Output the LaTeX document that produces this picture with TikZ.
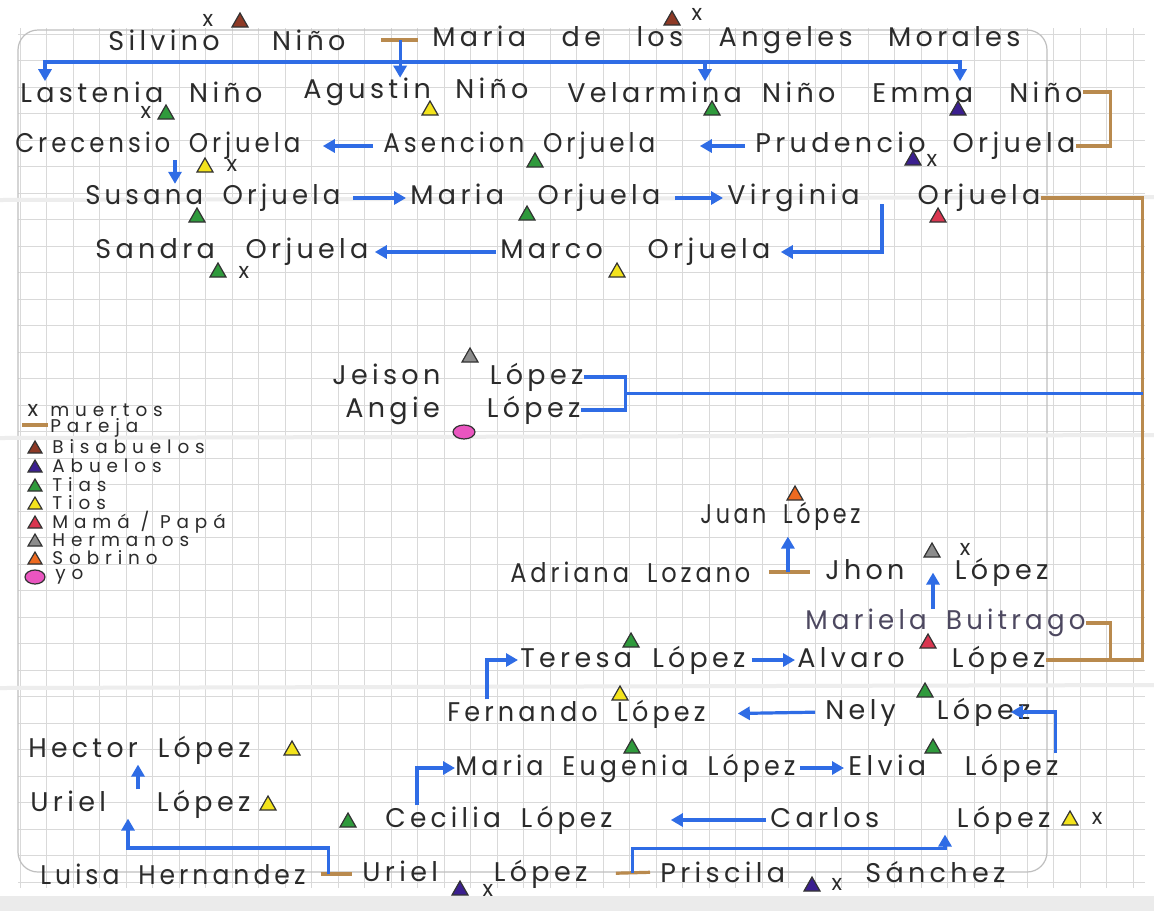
\documentclass[tikz,border=0pt]{standalone}
\usepackage{fontspec}
\setmainfont{Poppins}[LetterSpace=16]
\usetikzlibrary{arrows.meta}
\definecolor{azul}{HTML}{2F6CE5}
\definecolor{cafe}{HTML}{B98A4E}
\definecolor{bisa}{HTML}{8E3A26}
\definecolor{abue}{HTML}{3B1F8F}
\definecolor{tias}{HTML}{2F9A3C}
\definecolor{tios}{HTML}{F3E31C}
\definecolor{papas}{HTML}{DA3650}
\definecolor{herm}{HTML}{8C8C8C}
\definecolor{sobri}{HTML}{EE6A20}
\definecolor{yo}{HTML}{EA55C0}
\definecolor{cuadro}{HTML}{D9D9D9}
\definecolor{tinta}{HTML}{2B2B2B}
\definecolor{tintagris}{HTML}{4D4860}
% nombre con el ancho dado: se estira o se comprime
\newlength\largo
\newlength\ancho
\newcommand\ajusta[2]{%
  \spaceskip=.75em plus 20em\relax
  \ancho=\dimexpr#1\relax\settowidth\largo{#2}%
  \ifdim\largo>\ancho
    \resizebox{\ancho}{\height}{#2}%
  \else
    \makebox[\ancho][s]{#2}%
  \fi}
\begin{document}
\begin{tikzpicture}[x=0.5pt,y=-0.5pt,
  nombre/.style={right,inner sep=0pt,text=tinta,font=\fontsize{13.5}{15}\selectfont},
  leyenda/.style={right,inner sep=0pt,text=tinta,font=\fontsize{9.2}{10}\selectfont\addfontfeature{LetterSpace=32}},
  marca/.style={inner sep=0pt,text=tinta,font=\fontsize{11}{11}\selectfont},
  flecha/.style={draw=azul,line width=1.6pt,-{Triangle[length=6pt,width=6.5pt]}},
  linea/.style={draw=azul,line width=1.6pt},
  pareja/.style={draw=cafe,line width=1.6pt}]

\useasboundingbox (0,0) rectangle (1154,911);
\fill[white] (0,0) rectangle (1154,911);
% hoja cuadriculada
\foreach \i in {0,...,42}
{
    \draw[cuadro,line width=.4pt] (20+\i*26.5,28) -- (20+\i*26.5,888);
}
\foreach \j in {0,...,32}
{
    \draw[cuadro,line width=.4pt] (18,34+\j*26.5) -- (1145,34+\j*26.5);
}
\draw[black!25,line width=.6pt,rounded corners=10pt] (18,30) rectangle (1047,872);
\fill[black!8] (0,896) rectangle (1154,911);
\foreach \y in {200,438,688}
{
    \draw[black!7,line width=2pt] (0,\y) -- (1154,\y-3);
}

% personas
\foreach \n/\x/\y/\w/\t in {
 silvino/108/40/237/Silvino Niño, mariaa/432/40/588/Maria de los Angeles Morales,
 lastenia/20/92/242/Lastenia Niño, agustin/303/92/225/Agustin Niño,
 velarmina/567/92/268/Velarmina Niño, emma/872/92/210/Emma Niño,
 crecensio/15/146/285/Crecensio Orjuela, asencion/383/146/272/Asencion Orjuela,
 prudencio/755/146/320/Prudencio Orjuela,
 susana/85/198/255/Susana Orjuela, mariao/410/198/250/Maria Orjuela,
 virginia/727/198/313/Virginia Orjuela,
 sandra/95/252/273/Sandra Orjuela, marco/500/252/270/Marco Orjuela,
 jeison/332/377/251/Jeison López, angie/345/410/235/Angie López,
 juan/700/516/160/Juan López,
 adriana/510/572/240/Adriana Lozano, jhon/825/572/223/Jhon López,
 teresa/520/660/225/Teresa López, alvaro/797/660/248/Alvaro López,
 fernando/447/714/258/Fernando López, nely/825/712/205/Nely López,
 hector/28/750/222/Hector López,
 mariaeu/455/768/340/Maria Eugenia López, elvia/848/768/210/Elvia López,
 urielh/30/804/220/Uriel López,
 cecilia/385/820/227/Cecilia López, carlos/770/820/280/Carlos López,
 luisa/40/874/265/Luisa Hernandez, urielp/362/874/225/Uriel López,
 priscila/660/872/345/Priscila Sánchez}
{
    \node[nombre] (\n) at (\x,\y) {\ajusta{\w pt/2}{\t}};
}
\node[nombre,text=tintagris] (mariela) at (805,623) {\ajusta{140pt}{Mariela Buitrago}};

% parejas
\draw[pareja,shorten <=17.5pt,shorten >=7pt] (silvino.east) -- coordinate[pos=.63] (p1) (mariaa.west);
\draw[pareja,shorten <=9pt,shorten >=7.5pt] (adriana.east) -- coordinate[pos=.5] (p2) (jhon.west);
\draw[pareja,shorten <=7.5pt,shorten >=5pt] (luisa.east) -- coordinate[pos=.4] (p3) (urielp.west);
\draw[pareja,shorten <=14pt,shorten >=5pt] (urielp.east) -- coordinate[pos=.62] (p4) (priscila.west);
\draw[pareja] (emma.east) -- ++(14pt,0) |- (prudencio.east);
\draw[pareja] (virginia.east) -- ++(51pt,0) coordinate (borde) |- (alvaro.east);
\draw[pareja] (mariela.east) -- ++(12.5pt,0) |- (alvaro.east);

% hijos
\draw[flecha] (p1) -- (p1 |- agustin.north);
\draw[flecha] (p1 |- 0,62) -| ([xshift=12.5pt]lastenia.north west);
\draw[flecha] (p1 |- 0,62) -| ([xshift=69pt]velarmina.north west);
\draw[flecha] (p1 |- 0,62) -| ([xshift=44pt]emma.north west);
\draw[flecha,shorten <=5pt,shorten >=11pt] (asencion.west) -- (crecensio.east);
\draw[flecha,shorten <=5pt,shorten >=22pt] (prudencio.west) -- (asencion.east);
\draw[flecha] ([xshift=80pt]crecensio.south west) -- ([xshift=45pt]susana.north west);
\draw[flecha,shorten <=6pt,shorten >=2pt] (susana.east) -- (mariao.west);
\draw[flecha,shorten <=7pt,shorten >=2pt] (mariao.east) -- (virginia.west);
\draw[flecha,shorten >=5pt] ([xshift=77.5pt,yshift=-3pt]virginia.west) |- (marco.east);
\draw[flecha,shorten <=2pt,shorten >=3pt] (marco.west) -- (sandra.east);

\path (jeison.east) -- coordinate (mitad) (angie.east);
\draw[linea] (jeison.east) -- ++(21pt,0) |- (angie.east);
\draw[linea] ([xshift=21pt]mitad) -- (mitad -| borde);

\draw[flecha,shorten >=3pt] (p2) -- (p2 |- juan.south);
\draw[flecha] ([xshift=64pt]mariela.north west) -- ([xshift=54pt,yshift=7pt]jhon.south west);
\draw[flecha,shorten <=3pt,shorten >=1pt] (teresa.east) -- (alvaro.west);
\draw[flecha,shorten >=1pt] ([xshift=20pt]fernando.north west) |- (teresa.west);
\draw[flecha,shorten <=5pt,shorten >=16pt] (nely.west) -- (fernando.east);
\draw[flecha] ([xshift=-1.5pt]elvia.north east) |- ([xshift=-10pt]nely.east);
\draw[flecha,shorten <=2pt,shorten >=2pt] (mariaeu.east) -- (elvia.west);
\draw[flecha] ([xshift=16pt]cecilia.north west) |- (mariaeu.west);
\draw[flecha,shorten <=2pt,shorten >=29pt] (carlos.west) -- (cecilia.east);
\draw[flecha] ([xshift=54pt]urielh.north west) -- ([xshift=55pt]hector.south west);
\draw[flecha] (p3) -- ++(0,-26) -| ([xshift=49pt]urielh.south west);
\draw[flecha] (p4) -- ++(0,-24) -| ([xshift=87.5pt]carlos.south west);

% triangulos
\foreach \x/\y/\c in {240/20/bisa, 672/18/bisa, 166/112/tias, 430/108/tios, 712/108/tias,
 958/108/abue, 205/165/tios, 535/160/tias, 913/158/abue, 197/215/tias, 527/213/tias,
 938/215/papas, 218/270/tias, 617/270/tios, 470/355/herm, 795/493/sobri, 932/550/herm,
 631/640/tias, 928/641/papas, 620/693/tios, 925/690/tias, 632/746/tias, 933/746/tias,
 292/748/tios, 268/803/tios, 348/820/tias, 1070/818/tios, 460/888/abue, 812/884/abue}
{
    \filldraw[fill=\c,draw=black!80,line width=.6pt] (\x-8,\y+7) -- (\x+8,\y+7) -- (\x,\y-7) -- cycle;
}
\filldraw[fill=yo,draw=black!80,line width=.6pt] (464,432) ellipse (5.5pt and 3.5pt);

% muertos
\foreach \x/\y [count=\i] in {208/20, 697/14, 146/112, 232/165, 932/160, 244/272, 965/549,
 1097/818, 488/890, 837/884}
{
    \node[marca] (muerto\i) at (\x,\y) {x};
}

% convenciones
\node[marca] (lx) at (33,410) {x};
\node[leyenda] (lmuertos) at (50,410) {muertos};
\draw[pareja] (22,425) -- (48,425);
\node[leyenda] (lpareja) at (50,428) {Pareja};
\foreach \y/\c/\t in {447/bisa/Bisabuelos, 466/abue/Abuelos, 485/tias/Tias, 503/tios/Tios,
 522/papas/{Mamá / Papá}, 540/herm/Hermanos, 558/sobri/Sobrino}
{
    \filldraw[fill=\c,draw=black!80,line width=.6pt] (28,\y+6) -- (42,\y+6) -- (35,\y-6) -- cycle;
    \node[leyenda] at (52,\y) {\t};
}
\filldraw[fill=yo,draw=black!80,line width=.6pt] (35,577) ellipse (5pt and 3.5pt);
\node[leyenda] (lyo) at (55,577) {yo};

\end{tikzpicture}
\end{document}
